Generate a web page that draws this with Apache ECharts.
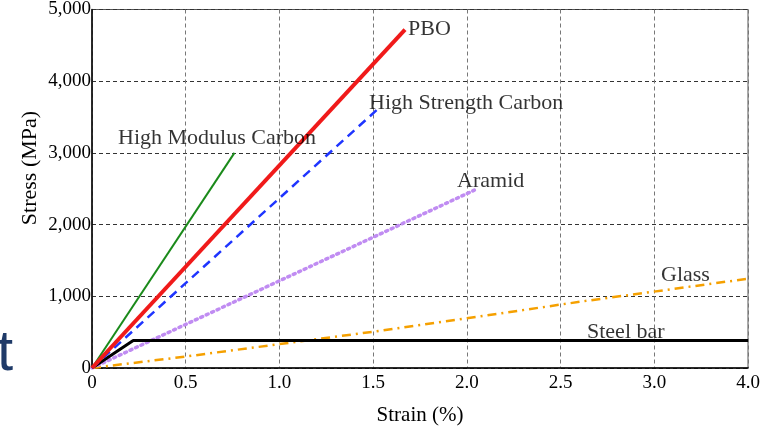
<!DOCTYPE html>
<html><head><meta charset="utf-8">
<script src="https://cdn.jsdelivr.net/npm/echarts@6/dist/echarts.min.js"></script>
<style>html,body{margin:0;padding:0;background:#fff}#c{width:772px;height:431px}</style>
</head><body><div id="c"></div>
<script>
// Tick labels as printed on the original (last one reads 4.0)
const xTickLabels = ["0", "0.5", "1.0", "1.5", "2.0", "2.5", "3.0", "4.0"];
const yTicks = [0, 1000, 2000, 3000, 4000, 5000];

// Series (strain in plotted units, stress in MPa)
const highModulusCarbon = [[0, 0], [0.76, 3000]];
const pbo = [[0, 0], [1.67, 4720]];
const highStrengthCarbon = [[0, 0], [1.52, 3600]];
const aramid = [[0, 0], [2.04, 2480]];
const glass = [[0, 0], [0.5, 160], [1.54, 520], [2.62, 930], [3.5, 1245]];
const steelBar = [[0, 0], [0.22, 385], [3.5, 385]];

// Annotations: [x, y, text]
const annotations = [
  [1.686, 4726, "PBO"],
  [1.478, 3699, "High Strength Carbon"],
  [0.139, 3205, "High Modulus Carbon"],
  [1.948, 2603, "Aramid"],
  [3.036, 1288, "Glass"],
  [2.641, 493, "Steel bar"]
];

const serif = "Liberation Serif";
const chart = echarts.init(document.getElementById('c'));
chart.setOption({
  animation: false,
  grid: { left: 92, right: 24, top: 9, bottom: 58, show: true, borderColor: '#555', borderWidth: 1 },
  xAxis: {
    type: 'value', min: 0, max: 3.5, interval: 0.5,
    name: 'Strain (%)', nameLocation: 'middle', nameGap: 37,
    nameTextStyle: { fontFamily: serif, fontSize: 21, color: '#000' },
    axisLine: { lineStyle: { color: '#000', width: 1.5 } },
    axisTick: { show: false },
    axisLabel: { fontFamily: serif, fontSize: 19, color: '#000', margin: 6,
      formatter: v => xTickLabels[Math.round(v / 0.5)] },
    splitLine: { show: true, lineStyle: { color: '#777', type: [4, 3], width: 1 } }
  },
  yAxis: {
    type: 'value', min: 0, max: 5000, interval: 1000,
    axisLine: { show: true, lineStyle: { color: '#000', width: 1.5 } },
    axisTick: { show: false },
    axisLabel: { fontFamily: serif, fontSize: 19, color: '#000', margin: 1,
      formatter: v => yTicks.includes(v) ? v.toLocaleString('en-US') : '' },
    splitLine: { show: true, lineStyle: { color: '#333', type: [4, 3], width: 1 } }
  },
  graphic: [
    { type: 'text', x: 30, y: 168, rotation: Math.PI / 2,
      style: { text: 'Stress (MPa)', fontFamily: serif, fontSize: 22, fill: '#000', align: 'center', verticalAlign: 'middle' } },
    { type: 'text', left: -3, top: 325,
      style: { text: 't', fontFamily: "Liberation Sans", fontSize: 58, fill: '#1f3a68' } }
  ],
  series: [
    { type: 'line', data: glass, symbol: 'none', z: 2,
      lineStyle: { color: '#f5a000', width: 2.5, type: [9, 5, 2, 5] } },
    { type: 'line', data: aramid, symbol: 'none', z: 2,
      lineStyle: { color: '#c08cf2', width: 3.5, type: [2, 4], cap: 'round' } },
    { type: 'line', data: steelBar, symbol: 'none', z: 3,
      lineStyle: { color: '#000', width: 3 } },
    { type: 'line', data: highModulusCarbon, symbol: 'none', z: 3,
      lineStyle: { color: '#1a8a1a', width: 2 } },
    { type: 'line', data: highStrengthCarbon, symbol: 'none', z: 3,
      lineStyle: { color: '#1f35ff', width: 2.5, type: [9, 6] } },
    { type: 'line', data: pbo, symbol: 'none', z: 4,
      lineStyle: { color: '#f01a1a', width: 4 } },
    { type: 'scatter', data: annotations.map(a => [a[0], a[1], a[2]]), symbolSize: 0, z: 6,
      label: { show: true, position: 'right', distance: 0, formatter: p => p.data[2],
        fontFamily: serif, fontSize: 22, color: '#000' } }
  ]
});
</script></body></html>
